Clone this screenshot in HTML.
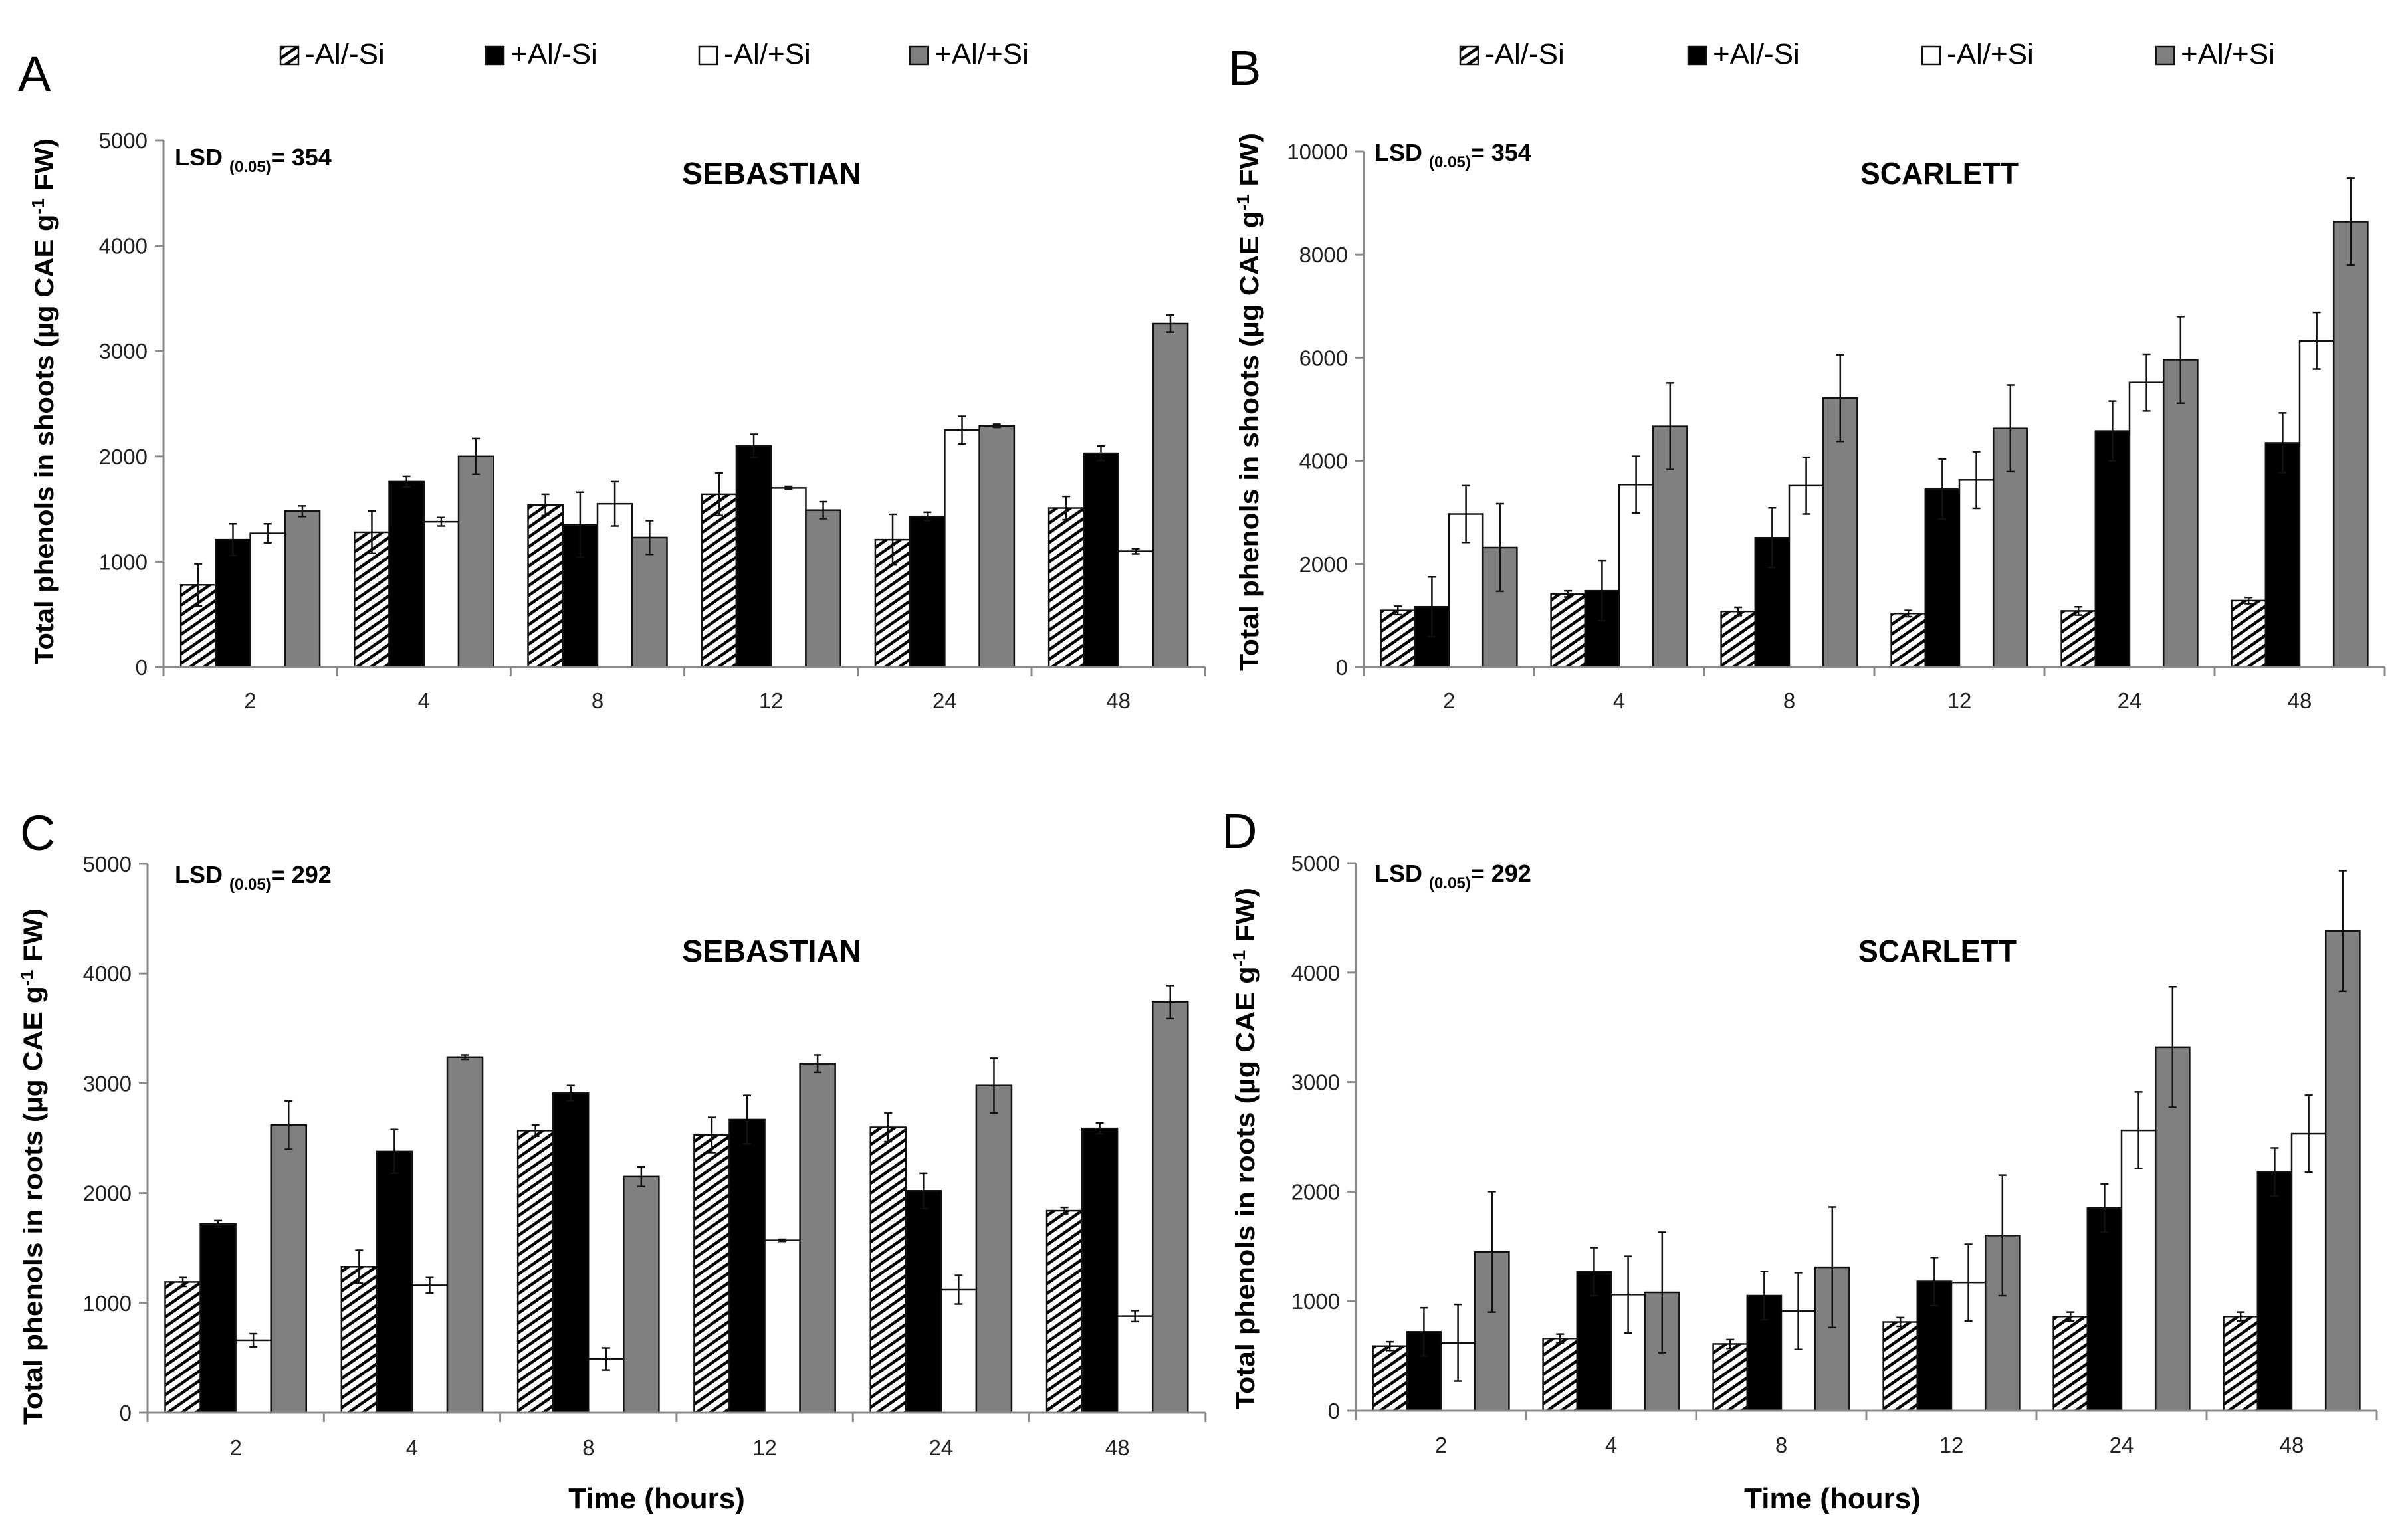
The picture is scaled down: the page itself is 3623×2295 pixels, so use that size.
<!DOCTYPE html>
<html><head><meta charset="utf-8">
<style>
html,body{margin:0;padding:0;background:#fff;}
svg{display:block;font-family:"Liberation Sans",sans-serif;}
</style></head>
<body>
<svg id="fig" width="3623" height="2295" viewBox="0 0 3623 2295" xmlns="http://www.w3.org/2000/svg">
<defs>
<pattern id="hatch" patternUnits="userSpaceOnUse" width="12" height="12" patternTransform="rotate(-35)">
<rect width="12" height="12" fill="#fff"/>
<rect x="0" y="0" width="12" height="4.5" fill="#000"/>
</pattern>
</defs>
<g id="root"></g>
</svg>
<script>
const categories = ["2","4","8","12","24","48"];
const seriesNames = ["-Al/-Si","+Al/-Si","-Al/+Si","+Al/+Si"];
// Panel A: Sebastian shoots
const aNoAlNoSi = [780,1280,1540,1640,1210,1510];
const aAlNoSi   = [1210,1760,1350,2100,1430,2030];
const aNoAlSi   = [1270,1380,1550,1700,2250,1100];
const aAlSi     = [1480,2000,1230,1490,2290,3260];
const aErrNoAlNoSi = [200,200,100,200,240,110];
const aErrAlNoSi   = [150,50,310,110,40,70];
const aErrNoAlSi   = [90,40,210,15,130,25];
const aErrAlSi     = [50,170,160,80,15,80];
// Panel B: Scarlett shoots
const bNoAlNoSi = [1100,1420,1080,1040,1090,1290];
const bAlNoSi   = [1170,1480,2510,3450,4580,4350];
const bNoAlSi   = [2970,3540,3520,3630,5520,6330];
const bAlSi     = [2320,4670,5220,4630,5960,8640];
const bErrNoAlNoSi = [80,60,80,60,80,60];
const bErrAlNoSi   = [580,580,580,580,580,580];
const bErrNoAlSi   = [550,550,550,550,550,550];
const bErrAlSi     = [850,840,840,840,840,840];
// Panel C: Sebastian roots
const cNoAlNoSi = [1190,1330,2570,2530,2600,1840];
const cAlNoSi   = [1720,2380,2910,2670,2020,2590];
const cNoAlSi   = [660,1160,490,1570,1120,880];
const cAlSi     = [2620,3240,2150,3180,2980,3740];
const cErrNoAlNoSi = [40,150,50,160,130,30];
const cErrAlNoSi   = [30,200,70,220,160,50];
const cErrNoAlSi   = [60,70,100,10,130,50];
const cErrAlSi     = [220,20,90,80,250,150];
// Panel D: Scarlett roots
const dNoAlNoSi = [590,660,610,810,860,860];
const dAlNoSi   = [720,1270,1050,1180,1850,2180];
const dNoAlSi   = [620,1060,910,1170,2560,2530];
const dAlSi     = [1450,1080,1310,1600,3320,4380];
const dErrNoAlNoSi = [40,40,40,40,40,40];
const dErrAlNoSi   = [220,220,220,220,220,220];
const dErrNoAlSi   = [350,350,350,350,350,350];
const dErrAlSi     = [550,550,550,550,550,550];
const ticksA = [0,1000,2000,3000,4000,5000];
const ticksB = [0,2000,4000,6000,8000,10000];
const ticksC = [0,1000,2000,3000,4000,5000];
const ticksD = [0,1000,2000,3000,4000,5000];

const NS="http://www.w3.org/2000/svg";
const root=document.getElementById('root');
function mk(tag,attrs,parent){const e=document.createElementNS(NS,tag);for(const k in attrs)e.setAttribute(k,attrs[k]);(parent||root).appendChild(e);return e;}
const fills=["url(#hatch)","#000","#fff","#808080"];

function panel(id,cfg,vals,errs,ticks){
  const g=mk('g',{});
  
  
  const yMax=ticks[ticks.length-1];
  const ys=v=>cfg.y0-(v/yMax)*(cfg.y0-cfg.yTop);
  const gw=cfg.gw;
  const xs=i=>cfg.x0+i*gw;
  // axes
  const ya=mk('line',{x1:cfg.x0,y1:cfg.yTop,x2:cfg.x0,y2:cfg.y0,stroke:'#8a8a8a','stroke-width':3},g);
  
  
  ticks.forEach(t=>{
    mk('line',{x1:cfg.x0-13,y1:ys(t),x2:cfg.x0,y2:ys(t),stroke:'#8a8a8a','stroke-width':3},g);
    const tl=mk('text',{x:cfg.x0-24,y:ys(t)+12,'text-anchor':'end','font-size':33,fill:'#222'},g);
    tl.textContent=t;
    
    
  });
  categories.forEach((c,i)=>{
    mk('line',{x1:xs(i),y1:cfg.y0,x2:xs(i),y2:cfg.y0+14,stroke:'#8a8a8a','stroke-width':3},g);
    const xl=mk('text',{x:xs(i)+gw/2,y:cfg.xLab,'text-anchor':'middle','font-size':33,fill:'#222'},g);
    xl.textContent=c;
    
    
  });
  mk('line',{x1:xs(6),y1:cfg.y0,x2:xs(6),y2:cfg.y0+14,stroke:'#8a8a8a','stroke-width':3},g);
  // bars
  const bw=gw*0.2;
  for(let s=0;s<4;s++){
    for(let i=0;i<6;i++){
      const v=vals[s][i], e=errs[s][i];
      const bx=xs(i)+gw*0.1+s*bw;
      const r=mk('rect',{x:bx,y:ys(v),width:bw,height:cfg.y0-ys(v),fill:fills[s],stroke:'#111','stroke-width':2.5},g);
      
      
      const cx=bx+bw/2;
      const eb=mk('path',{d:`M${cx},${ys(v+e)}V${ys(v-e)}M${cx-6},${ys(v+e)}h12M${cx-6},${ys(v-e)}h12`,stroke:'#111','stroke-width':2.5,fill:'none'},g);
      
      
    }
  }
  const xa=mk('line',{x1:cfg.x0,y1:cfg.y0,x2:xs(6),y2:cfg.y0,stroke:'#8a8a8a','stroke-width':3},g);
  
  
  // labels
  const letter=mk('text',{x:cfg.lx,y:cfg.ly,'font-size':74,fill:'#000'},g);
  letter.textContent=id;
  
  
  const lsd=mk('text',{x:cfg.lsdX,y:cfg.lsdY,'font-size':36,'font-weight':'bold',fill:'#000'},g);
  lsd.innerHTML=`LSD <tspan font-size="24" dy="10">(0.05)</tspan><tspan dy="-10">= ${cfg.lsd}</tspan>`;
  
  
  const tt=mk('text',{x:cfg.tx,y:cfg.ty,'text-anchor':'middle','font-size':46,'font-weight':'bold',fill:'#000',textLength:cfg.tl,lengthAdjust:'spacingAndGlyphs'},g);
  tt.textContent=cfg.title;
  
  
  const yt=mk('text',{x:0,y:0,transform:`translate(${cfg.ytx},${(cfg.yt1+cfg.yt2)/2}) rotate(-90)`,'text-anchor':'middle','font-size':40,'font-weight':'bold',fill:'#000',textLength:cfg.yt2-cfg.yt1,lengthAdjust:'spacingAndGlyphs'},g);
  yt.innerHTML=cfg.ytitle;
  
  
  if(cfg.legend){
    const lg=mk('g',{},g);
    
    
    cfg.legend.forEach((lx,s)=>{
      const le=mk('g',{},lg);
      
      
      mk('rect',{x:lx,y:70,width:27,height:27,fill:fills[s],stroke:'#111','stroke-width':2.5},le);
      const t=mk('text',{x:lx+37,y:96,'font-size':44,fill:'#000'},le);
      t.textContent=seriesNames[s];
    });
  }
  if(cfg.timeX){
    const tx=mk('text',{x:cfg.timeX,y:2270,'text-anchor':'middle','font-size':44,'font-weight':'bold',fill:'#000'},g);
    tx.textContent='Time (hours)';
    
    
  }
}
const tShoots='Total phenols in shoots (µg CAE g<tspan font-size="26" dy="-14">-1</tspan><tspan dy="14"> FW)</tspan>';
const tRoots='Total phenols in roots  (µg CAE g<tspan font-size="26" dy="-14">-1</tspan><tspan dy="14"> FW)</tspan>';
panel('A',{x0:246,gw:261.2,y0:1004,yTop:211,xLab:1066,lx:27,ly:137,lsdX:263,lsdY:249,lsd:354,title:'SEBASTIAN',tx:1161,ty:277,tl:270,ytx:80,yt1:208,yt2:1000,ytitle:tShoots,legend:[422,731,1052,1369]},
  [aNoAlNoSi,aAlNoSi,aNoAlSi,aAlSi],[aErrNoAlNoSi,aErrAlNoSi,aErrNoAlSi,aErrAlSi],ticksA);
panel('B',{x0:2052,gw:256,y0:1004,yTop:228,xLab:1066,lx:1848,ly:128,lsdX:2068,lsdY:242,lsd:354,title:'SCARLETT',tx:2918,ty:277,tl:238,ytx:1893,yt1:200,yt2:1010,ytitle:tShoots,legend:[2197,2540,2892,3244]},
  [bNoAlNoSi,bAlNoSi,bNoAlSi,bAlSi],[bErrNoAlNoSi,bErrAlNoSi,bErrNoAlSi,bErrAlSi],ticksB);
panel('C',{x0:222,gw:265.3,y0:2126,yTop:1300,xLab:2190,lx:30,ly:1279,lsdX:263,lsdY:1329,lsd:292,title:'SEBASTIAN',tx:1161,ty:1447,tl:270,ytx:63,yt1:1367,yt2:2144,ytitle:tRoots,timeX:988},
  [cNoAlNoSi,cAlNoSi,cNoAlSi,cAlSi],[cErrNoAlNoSi,cErrAlNoSi,cErrNoAlSi,cErrAlSi],ticksC);
panel('D',{x0:2040,gw:256,y0:2123,yTop:1299,xLab:2186,lx:1838,ly:1276,lsdX:2068,lsdY:1327,lsd:292,title:'SCARLETT',tx:2915,ty:1447,tl:238,ytx:1887,yt1:1336,yt2:2121,ytitle:tRoots,timeX:2757},
  [dNoAlNoSi,dAlNoSi,dNoAlSi,dAlSi],[dErrNoAlNoSi,dErrAlNoSi,dErrNoAlSi,dErrAlSi],ticksD);
</script>
</body></html>
